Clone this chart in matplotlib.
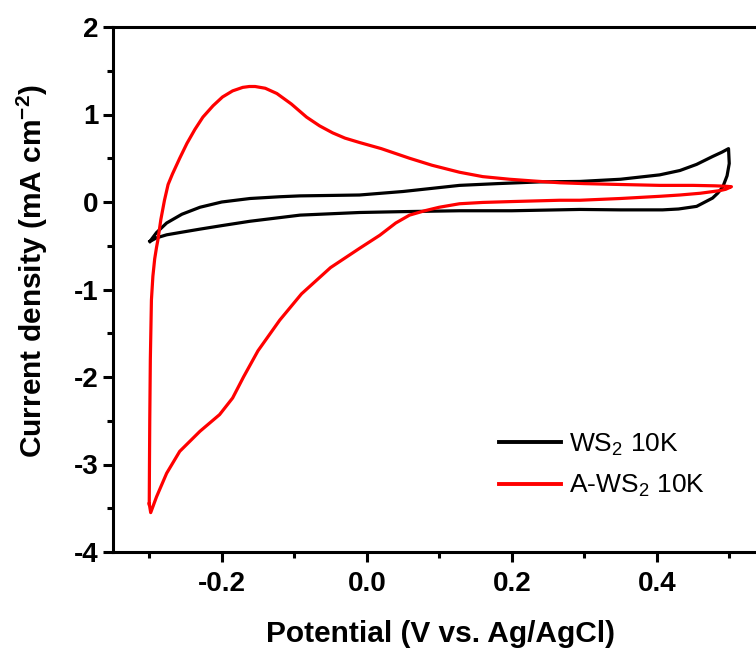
import matplotlib
matplotlib.use("Agg")
import matplotlib.pyplot as plt
from matplotlib.ticker import MultipleLocator

plt.rcParams['font.family'] = ['Liberation Sans', 'DejaVu Sans']
plt.rcParams['mathtext.fontset'] = 'custom'
plt.rcParams['mathtext.rm'] = 'Liberation Sans'
plt.rcParams['mathtext.bf'] = 'Liberation Sans:bold'

# WS2 10K: anodic sweep (-0.3 -> 0.5 V), then cathodic sweep back
ws2_anodic_v = [-0.299, -0.290, -0.276, -0.255, -0.230, -0.200, -0.161, -0.120,
                -0.092, -0.050, -0.010, 0.050, 0.128, 0.180, 0.239, 0.294,
                0.350, 0.404, 0.432, 0.455, 0.477, 0.490, 0.499]
ws2_anodic_j = [-0.45, -0.35, -0.24, -0.14, -0.06, 0.00, 0.04, 0.06,
                0.07, 0.075, 0.08, 0.12, 0.19, 0.21, 0.23, 0.235,
                0.26, 0.31, 0.36, 0.43, 0.52, 0.57, 0.61]
ws2_cathodic_v = [0.500, 0.497, 0.491, 0.484, 0.477, 0.455, 0.430, 0.408, 0.350,
                  0.294, 0.200, 0.128, 0.050, -0.010, -0.092, -0.161, -0.200,
                  -0.230, -0.255, -0.276, -0.290, -0.299]
ws2_cathodic_j = [0.44, 0.30, 0.17, 0.10, 0.045, -0.05, -0.08, -0.09, -0.09,
                  -0.085, -0.10, -0.10, -0.11, -0.12, -0.15, -0.22, -0.27,
                  -0.31, -0.345, -0.375, -0.41, -0.45]

# A-WS2 10K
aws2_anodic_v = [-0.3000, -0.2997, -0.2993, -0.2985, -0.2970, -0.2950, -0.2925,
                 -0.2900, -0.288, -0.284, -0.279, -0.274, -0.268, -0.263, -0.258,
                 -0.248, -0.237, -0.226, -0.212, -0.199, -0.185, -0.171, -0.162,
                 -0.154, -0.140, -0.124, -0.104, -0.083, -0.065, -0.047, -0.030,
                 -0.010, 0.020, 0.059, 0.090, 0.128, 0.160, 0.197, 0.230, 0.266,
                 0.300, 0.350, 0.404, 0.450, 0.480, 0.495, 0.503]
aws2_anodic_j = [-3.45, -3.0, -2.5, -1.8, -1.12, -0.85, -0.65,
                 -0.52, -0.43, -0.20, 0.02, 0.20, 0.32, 0.41, 0.50,
                 0.67, 0.83, 0.97, 1.10, 1.20, 1.27, 1.31, 1.32,
                 1.32, 1.30, 1.24, 1.12, 0.97, 0.87, 0.79, 0.73,
                 0.68, 0.61, 0.50, 0.42, 0.34, 0.29, 0.26, 0.24, 0.22,
                 0.21, 0.20, 0.19, 0.19, 0.185, 0.18, 0.175]
aws2_cathodic_v = [0.495, 0.487, 0.460, 0.432, 0.404, 0.350, 0.294, 0.266, 0.200,
                   0.160, 0.128, 0.100, 0.080, 0.059, 0.040, 0.018, -0.010,
                   -0.050, -0.090, -0.120, -0.150, -0.170, -0.185, -0.203,
                   -0.230, -0.258, -0.276, -0.290, -0.298, -0.300]
aws2_cathodic_j = [0.145, 0.13, 0.10, 0.08, 0.065, 0.04, 0.02, 0.02, 0.005,
                   -0.005, -0.02, -0.06, -0.10, -0.15, -0.24, -0.38, -0.53,
                   -0.75, -1.05, -1.35, -1.70, -2.00, -2.24, -2.43,
                   -2.62, -2.85, -3.10, -3.37, -3.55, -3.45]

series_labels = [r'WS$_2$ 10K', r'A-WS$_2$ 10K']
series_colors = ['#000000', '#ff0000']

x_ticks = [-0.2, 0.0, 0.2, 0.4]
y_ticks = [-4, -3, -2, -1, 0, 1, 2]

W, H = 756, 650
fig = plt.figure(figsize=(W / 100, H / 100), dpi=100)
# axes extends slightly past the right edge of the canvas
ax = fig.add_axes([113 / W, 98 / H, 652.5 / W, 525 / H])

ax.plot(ws2_anodic_v + ws2_cathodic_v, ws2_anodic_j + ws2_cathodic_j,
        color=series_colors[0], lw=2.3, label=series_labels[0],
        solid_joinstyle='round')
ax.plot(aws2_anodic_v + aws2_cathodic_v, aws2_anodic_j + aws2_cathodic_j,
        color=series_colors[1], lw=2.3, label=series_labels[1],
        solid_joinstyle='round')

ax.set_xlim(-0.35, 0.55)
ax.set_ylim(-4, 2)
ax.set_xticks(x_ticks)
ax.set_xticklabels([f'{v:.1f}' for v in x_ticks])
ax.set_yticks(y_ticks)
ax.set_yticklabels([str(v) for v in y_ticks])
ax.xaxis.set_minor_locator(MultipleLocator(0.1))
ax.yaxis.set_minor_locator(MultipleLocator(0.5))

for s in ax.spines.values():
    s.set_linewidth(2.2)
ax.tick_params(which='major', direction='out', length=7.5, width=2.2,
               labelsize=20)
ax.tick_params(which='minor', direction='out', length=4.5, width=2.2)
ax.tick_params(axis='x', which='major', pad=6)
ax.tick_params(axis='y', which='major', pad=3)
for lab in ax.get_xticklabels() + ax.get_yticklabels():
    lab.set_fontweight('bold')

ax.set_xlabel('Potential (V vs. Ag/AgCl)', fontsize=21.5, fontweight='bold')
ax.set_ylabel(r'Current density (mA cm$^{\mathbf{-2}}$)', fontsize=21.5,
              fontweight='bold')
ax.xaxis.set_label_coords(440 / W, 1 - 620 / H, transform=fig.transFigure)
ax.yaxis.set_label_coords(50 / W, 1 - 271 / H, transform=fig.transFigure)

leg = ax.legend(loc='upper left', bbox_to_anchor=(499 / W, 1 - 431 / H),
                bbox_transform=fig.transFigure, frameon=False, fontsize=19,
                handlelength=2.35, handletextpad=0.3, labelspacing=0.58,
                borderaxespad=0, borderpad=0)
for h in leg.get_lines():
    h.set_linewidth(2.8)

fig.savefig('out.png', dpi=100)
